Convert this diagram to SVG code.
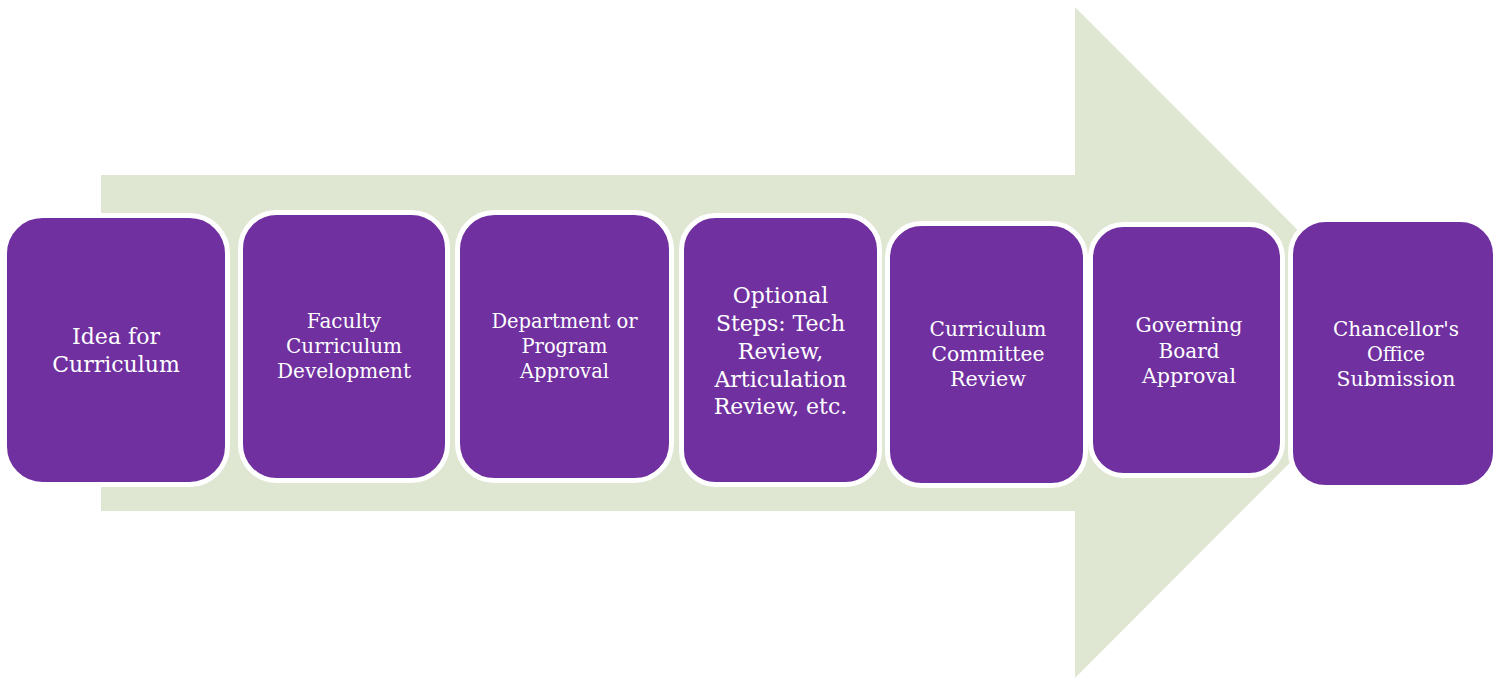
<svg xmlns="http://www.w3.org/2000/svg" width="1502" height="681" viewBox="0 0 1502 681">
<style>
.box{fill:#7030A0;stroke:#FFFFFF;stroke-width:5}
.t{fill:#FFFFFF;font-family:"DejaVu Serif","Liberation Serif",serif;text-anchor:middle}
.a{font-size:22px}
.b{font-size:20px}
.c{font-size:19.5px}
.d{font-size:21px}
</style>
<rect width="1502" height="681" fill="#FFFFFF"/>
<g id="arrow">
<polygon points="101,175 1075,175 1075,7 1410,342.5 1075,678 1075,511 101,511" fill="#DFE7D2"/>
</g>
<g id="connectors"></g>
<g id="n1">
<rect class="box" x="4.5" y="215.5" width="223" height="269" rx="38" ry="38"/>
<text class="t a" x="116" y="344">Idea for</text>
<text class="t a" x="116" y="372">Curriculum</text>
</g>
<g id="n2">
<rect class="box" x="240.5" y="212.5" width="207" height="268" rx="36" ry="36"/>
<text class="t b" x="344" y="328">Faculty</text>
<text class="t b" x="344" y="353">Curriculum</text>
<text class="t b" x="344" y="378">Development</text>
</g>
<g id="n3">
<rect class="box" x="457.5" y="212.5" width="214" height="268" rx="37" ry="37"/>
<text class="t c" x="564.5" y="328">Department or</text>
<text class="t c" x="564.5" y="353">Program</text>
<text class="t c" x="564.5" y="378">Approval</text>
</g>
<g id="n4">
<rect class="box" x="681.5" y="215.5" width="198" height="269" rx="34" ry="34"/>
<text class="t a" x="780.5" y="303">Optional</text>
<text class="t a" x="780.5" y="331">Steps: Tech</text>
<text class="t a" x="780.5" y="359">Review,</text>
<text class="t a" x="780.5" y="387">Articulation</text>
<text class="t a" x="780.5" y="414">Review, etc.</text>
</g>
<g id="n5">
<rect class="box" x="887.5" y="223.5" width="198" height="262" rx="34" ry="34"/>
<text class="t d" x="988" y="336" textLength="117" lengthAdjust="spacingAndGlyphs">Curriculum</text>
<text class="t d" x="988" y="361" textLength="113" lengthAdjust="spacingAndGlyphs">Committee</text>
<text class="t d" x="988" y="386" textLength="76" lengthAdjust="spacingAndGlyphs">Review</text>
</g>
<g id="n6">
<rect class="box" x="1090.5" y="224.5" width="192" height="251" rx="33" ry="33"/>
<text class="t d" x="1189" y="332" textLength="107" lengthAdjust="spacingAndGlyphs">Governing</text>
<text class="t d" x="1189" y="358" textLength="61" lengthAdjust="spacingAndGlyphs">Board</text>
<text class="t d" x="1189" y="383" textLength="94" lengthAdjust="spacingAndGlyphs">Approval</text>
</g>
<g id="n7">
<rect class="box" x="1290.5" y="219.5" width="205" height="268" rx="35" ry="35"/>
<text class="t d" x="1396" y="336" textLength="126" lengthAdjust="spacingAndGlyphs">Chancellor's</text>
<text class="t d" x="1396" y="361" textLength="58" lengthAdjust="spacingAndGlyphs">Office</text>
<text class="t d" x="1396" y="386" textLength="119" lengthAdjust="spacingAndGlyphs">Submission</text>
</g>
</svg>
